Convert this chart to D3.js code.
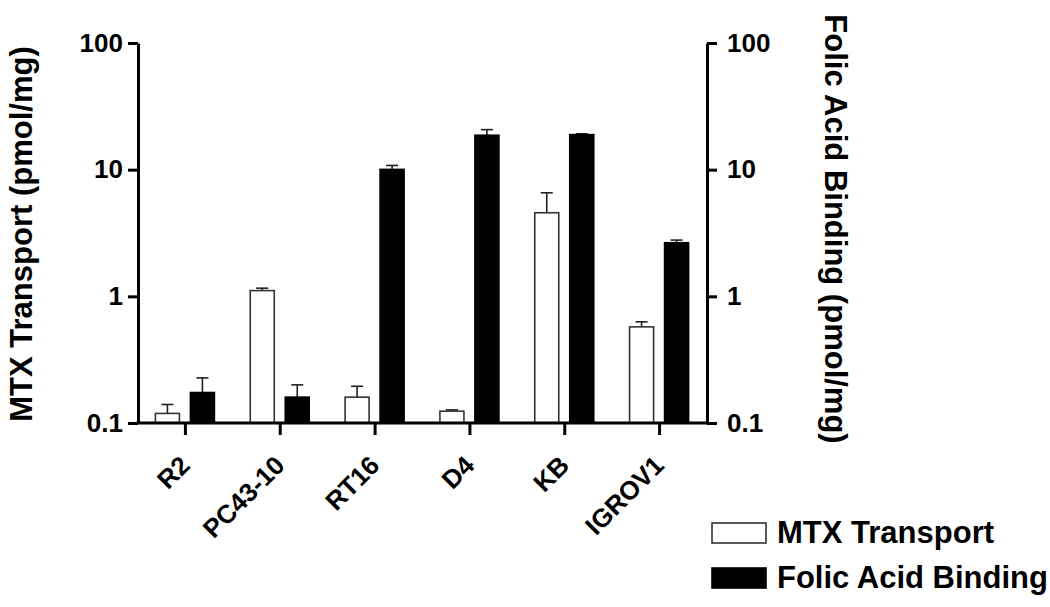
<!DOCTYPE html>
<html>
<head>
<meta charset="utf-8">
<script src="https://cdn.jsdelivr.net/npm/d3@7/dist/d3.min.js"></script>
<style>
  html, body { margin: 0; padding: 0; background: #fff; }
  svg { display: block; }
  text { font-family: "Liberation Sans", Arial, sans-serif; font-weight: bold; fill: #000; }
</style>
</head>
<body>
<svg id="chart" width="1050" height="607"></svg>
<script>
// ---- data ----
const categories = ["R2", "PC43-10", "RT16", "D4", "KB", "IGROV1"];
const seriesNames = ["MTX Transport", "Folic Acid Binding"];
const mtxValues = [0.119, 1.11, 0.16, 0.124, 4.57, 0.574];
const mtxErrors = [0.021, 0.05, 0.035, 0.003, 2.0, 0.055];
const folicValues = [0.174, 0.16, 10.05, 18.7, 18.9, 2.65];
const folicErrors = [0.053, 0.04, 0.75, 2.0, 0.3, 0.13];
const tickValues = [0.1, 1, 10, 100];
const tickLabels = ["0.1", "1", "10", "100"];
const leftTitle = "MTX Transport (pmol/mg)";
const rightTitle = "Folic Acid Binding (pmol/mg)";

// ---- layout ----
const svg = d3.select("#chart");
const plotLeft = 138, plotRight = 707, plotTop = 43, plotBottom = 423;

const x0 = d3.scaleBand().domain(categories).range([plotLeft, plotRight]).padding(0);
const x1 = d3.scaleBand().domain(seriesNames)
  .range([x0.bandwidth() / 2 - 30, x0.bandwidth() / 2 + 29])
  .paddingInner(0.314).paddingOuter(0);
const y = d3.scaleLog().domain([0.1, 100]).range([plotBottom, plotTop]);

const fmt = v => tickLabels[tickValues.indexOf(v)];

const rows = categories.map((c, i) => ({
  cat: c,
  bars: [
    { s: seriesNames[0], v: mtxValues[i], e: mtxErrors[i] },
    { s: seriesNames[1], v: folicValues[i], e: folicErrors[i] }
  ]
}));

// ---- bars ----
const groups = svg.append("g").selectAll("g").data(rows).join("g")
  .attr("transform", d => `translate(${x0(d.cat)},0)`);

groups.selectAll("g.err").data(d => d.bars).join("g").attr("class", "err")
  .each(function (d) {
    const g = d3.select(this);
    const cx = x1(d.s) + x1.bandwidth() / 2;
    const yt = y(d.v + d.e);
    g.append("line").attr("x1", cx).attr("x2", cx).attr("y1", y(d.v)).attr("y2", yt)
      .attr("stroke", "#222").attr("stroke-width", 1.6);
    g.append("line").attr("x1", cx - 6).attr("x2", cx + 6).attr("y1", yt).attr("y2", yt)
      .attr("stroke", "#222").attr("stroke-width", 1.6);
  });

groups.selectAll("rect").data(d => d.bars).join("rect")
  .attr("x", d => x1(d.s))
  .attr("width", x1.bandwidth())
  .attr("y", d => y(d.v))
  .attr("height", d => y(0.1) - y(d.v))
  .attr("fill", d => d.s === seriesNames[0] ? "#fff" : "#000")
  .attr("stroke", d => d.s === seriesNames[0] ? "#333" : "#000")
  .attr("stroke-width", 1.6);

// ---- axes ----
function styleAxis(g) {
  g.selectAll("path.domain").attr("stroke", "#000").attr("stroke-width", 3);
  g.selectAll(".tick line").attr("stroke", "#000").attr("stroke-width", 3);
  g.selectAll(".tick text").attr("font-size", 26).attr("font-weight", "bold")
    .attr("font-family", '"Liberation Sans", Arial, sans-serif').attr("fill", "#000");
}

svg.append("g").attr("transform", `translate(${plotLeft},0)`)
  .call(d3.axisLeft(y).tickValues(tickValues).tickFormat(fmt).tickSize(10).tickSizeOuter(0).tickPadding(5))
  .call(styleAxis);

svg.append("g").attr("transform", `translate(${plotRight},0)`)
  .call(d3.axisRight(y).tickValues(tickValues).tickFormat(fmt).tickSize(10).tickSizeOuter(0).tickPadding(10))
  .call(styleAxis);

const xAxis = svg.append("g").attr("transform", `translate(0,${plotBottom})`)
  .call(d3.axisBottom(x0).tickSize(12).tickSizeOuter(0).tickFormat(""))
  .call(styleAxis);
xAxis.select("path.domain").attr("d", `M${plotLeft - 1.5},0H${plotRight + 1.5}`);

// rotated category labels
svg.append("g").selectAll("text.cat").data(categories).join("text")
  .attr("class", "cat")
  .attr("text-anchor", "end")
  .attr("font-size", 26)
  .attr("transform", d => `translate(${x0(d) + x0.bandwidth() / 2 + 6},${plotBottom + 44}) rotate(-45)`)
  .text(d => d);

// ---- titles ----
svg.append("text")
  .attr("transform", "translate(32,234) rotate(-90)")
  .attr("text-anchor", "middle").attr("font-size", 31)
  .text(leftTitle);

svg.append("text")
  .attr("transform", "translate(825,229) rotate(90)")
  .attr("text-anchor", "middle").attr("font-size", 31)
  .text(rightTitle);

// ---- legend ----
const legend = svg.append("g");
seriesNames.forEach((s, i) => {
  const yy = 523 + i * 45;
  legend.append("rect").attr("x", 712).attr("y", yy).attr("width", 54).attr("height", 20)
    .attr("fill", i === 0 ? "#fff" : "#000").attr("stroke", i === 0 ? "#333" : "#000").attr("stroke-width", 1.6);
  legend.append("text").attr("x", 777).attr("y", yy + 20).attr("font-size", 31).text(s);
});
</script>
</body>
</html>
